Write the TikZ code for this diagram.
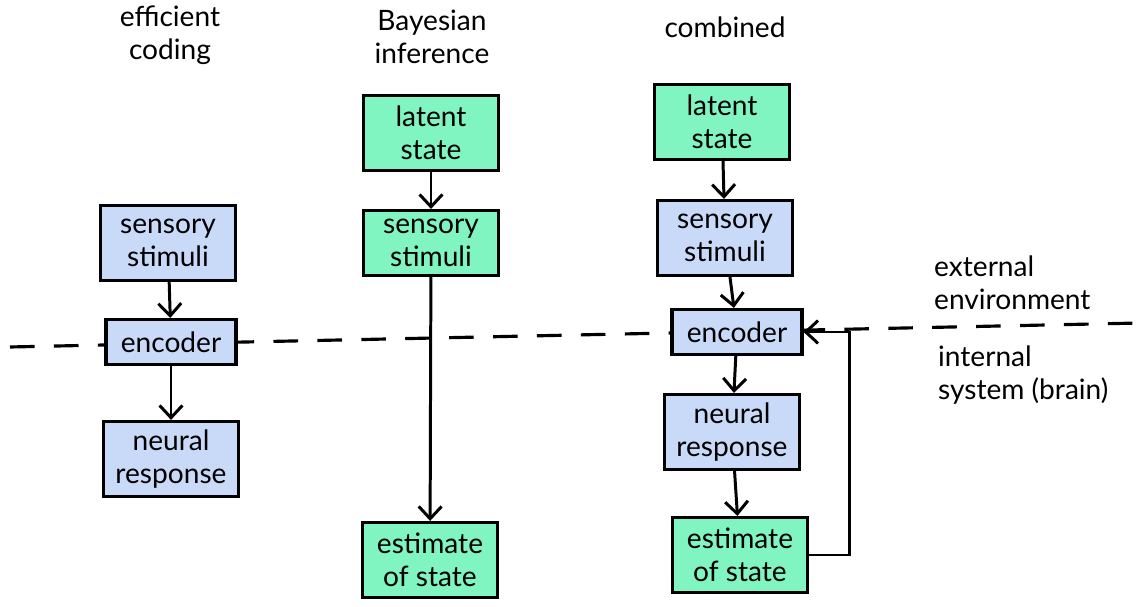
\documentclass[tikz,border=0pt]{standalone}
\usepackage{fontspec}
\setmainfont{Lato}
\usetikzlibrary{arrows.meta}
\definecolor{mint}{HTML}{80F5C1}
\definecolor{paleblue}{HTML}{C9DAF8}

\begin{document}
\begin{tikzpicture}[>={Straight Barb[length=7pt,width=13pt]}, x=0.02cm, y=-0.02cm,
    hand/.style={font=\fontsize{16}{19}\selectfont, align=center},
    box/.style={hand, draw, line width=1.8pt, minimum width=2.7cm, minimum height=1.5cm},
    greenbox/.style={box, fill=mint},
    bluebox/.style={box, fill=paleblue},
    encbox/.style={bluebox, minimum width=2.6cm, minimum height=0.9cm},
    flow/.style={->, line width=1.7pt}]
        \useasboundingbox (0,0) rectangle (1140,607);
        % boundary between world and brain
        \draw[line width=1.8pt, dash pattern=on 14pt off 11pt] (10,347) -- (1140,323);
        % titles
        \node[hand] (t1) at (170,35) {efficient\\coding};
        \node[hand] (t2) at (432,37) {Bayesian\\inference};
        \node[hand] (t3) at (725,27) {combined};
        % efficient coding
        \node[bluebox] (s1) at (168,243) {sensory\\stimuli};
        \node[encbox] (e1) at (171,342) {encoder};
        \node[bluebox] (n1) at (171,459) {neural\\response};
        % Bayesian inference
        \node[greenbox] (l2) at (431,133) {latent\\state};
        \node[greenbox, minimum height=1.3cm] (s2) at (431,243) {sensory\\stimuli};
        \node[greenbox] (x2) at (430,560) {estimate\\of state};
        % combined
        \node[greenbox] (l3) at (722,122) {latent\\state};
        \node[bluebox] (s3) at (725,238) {sensory\\stimuli};
        \node[encbox] (e3) at (737,332) {encoder};
        \node[bluebox] (n3) at (732,432) {neural\\response};
        \node[greenbox] (x3) at (740,555) {estimate\\of state};
        % side labels
        \node[hand, align=left, anchor=west] (ext) at (928,283) {external\\environment};
        \node[hand, align=left, anchor=west] (int) at (932,375) {internal\\system (brain)};
        % arrows
        \draw[flow] (s1) -- (e1);
        \draw[flow] (e1) -- (n1);
        \draw[flow] (l2) -- (s2);
        \draw[flow] (s2) -- (x2);
        \draw[flow] (l3) -- (s3);
        \draw[flow] (s3) -- (e3);
        \draw[flow] (e3) -- (n3);
        \draw[flow] (n3) -- (x3);
        \draw[flow] (x3.east) -- ++(40,0) |- (e3.east);
    \end{tikzpicture}
\end{document}
